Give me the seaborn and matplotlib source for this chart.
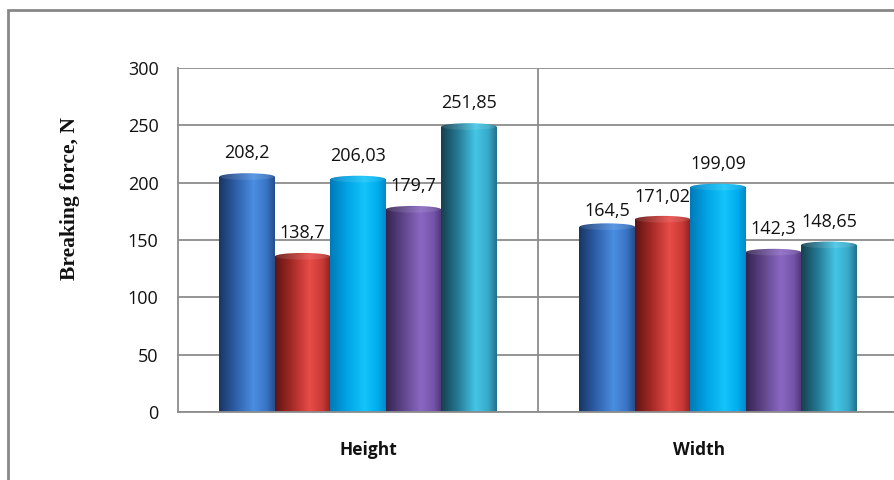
import numpy as np
import pandas as pd
import matplotlib
matplotlib.use("Agg")
import matplotlib.pyplot as plt
import seaborn as sns
from matplotlib.colors import LinearSegmentedColormap
from matplotlib.patches import Ellipse, Rectangle
from matplotlib.transforms import ScaledTranslation

categories = ["Height", "Width"]
series = ["S1", "S2", "S3", "S4", "S5"]
height_vals = [208.2, 138.7, 206.03, 179.7, 251.85]
width_vals = [164.5, 171.02, 199.09, 142.3, 148.65]
value_labels_height = ["208,2", "138,7", "206,03", "179,7", "251,85"]
value_labels_width = ["164,5", "171,02", "199,09", "142,3", "148,65"]
y_ticks = [0, 50, 100, 150, 200, 250, 300]

# gradient stops per series: (left edge, mid, highlight, right-mid, right edge)
grad_colors = [
    ["#173563", "#2e5fa8", "#4a8ee2", "#3a74c4", "#244d8c"],
    ["#5e1414", "#a52a26", "#e84c48", "#c83a36", "#8a2020"],
    ["#0079b8", "#00a4e4", "#14c4fa", "#00aeee", "#0088c8"],
    ["#36244f", "#5e4488", "#8a68c2", "#7555aa", "#4e3676"],
    ["#163f4e", "#257a94", "#44c6e6", "#38a8c8", "#23708a"],
]

rows = []
for cat, vals in zip(categories, [height_vals, width_vals]):
    for s, v in zip(series, vals):
        rows.append({"cat": cat, "series": s, "value": v})
df = pd.DataFrame(rows)

sns.set_theme(style="white")
plt.rcParams["font.family"] = ["Open Sans", "DejaVu Sans"]

fig = plt.figure(figsize=(8.94, 4.80), dpi=100)
W, H = 894, 480
ax = fig.add_axes([178 / W, 1 - 412 / H, 720 / W, 344 / H])

sns.barplot(data=df, x="cat", y="value", hue="series", order=categories,
            hue_order=series, width=0.77, dodge=True, legend=False,
            palette=[c[2] for c in grad_colors], ax=ax, saturation=1,
            linewidth=0, errorbar=None)

ax.set_xlim(-0.5, 1.5)
ax.set_ylim(0, 300)
ax.set_yticks(y_ticks)
ax.set_yticklabels([str(t) for t in y_ticks], fontsize=13, color="#111111")
ax.set_xlabel("")
ax.set_ylabel("")
ax.yaxis.grid(True, color="#8c8c8c", linewidth=1.3)
ax.set_axisbelow(True)
ax.axvline(0.5, color="#8c8c8c", linewidth=1.3, zorder=0.5)
for sp in ["top", "right"]:
    ax.spines[sp].set_visible(False)
for sp in ["left", "bottom"]:
    ax.spines[sp].set_color("#8c8c8c")
    ax.spines[sp].set_linewidth(1.3)
ax.tick_params(axis="y", length=0, pad=14)
ax.tick_params(axis="x", length=0, pad=21)

# category labels
ax.set_xticks([0, 1])
ax.set_xticklabels(categories, fontsize=12.5, fontweight="bold", color="#111111")
shifts = [10, -19]
for lab, dx in zip(ax.get_xticklabels(), shifts):
    lab.set_transform(lab.get_transform() + ScaledTranslation(dx / 100, 0, fig.dpi_scale_trans))

# cylinder-style gradient bars
px_per_unit = 344 / 300
cap_h = 7 / px_per_unit
bars = [p for p in ax.patches if isinstance(p, Rectangle) and p.get_height() > 0]
bars = sorted(bars, key=lambda p: p.get_x())
grad = np.linspace(0, 1, 256).reshape(1, -1)
for p in bars:
    x0 = p.get_x()
    w = p.get_width()
    h = p.get_height()
    fc = p.get_facecolor()
    idx = 0
    best = 1e9
    for i, c in enumerate(grad_colors):
        rgb = matplotlib.colors.to_rgb(c[2])
        d = sum((a - b) ** 2 for a, b in zip(rgb, fc[:3]))
        if d < best:
            best = d
            idx = i
    cmap = LinearSegmentedColormap.from_list(
        "g%d" % idx, list(zip([0, 0.3, 0.62, 0.85, 1.0], grad_colors[idx])))
    p.set_visible(False)
    body = Rectangle((x0, 0), w, h - cap_h / 2, transform=ax.transData)
    im = ax.imshow(grad, cmap=cmap, aspect="auto", extent=(x0, x0 + w, 0, h),
                   origin="lower", zorder=2, interpolation="bilinear")
    im.set_clip_path(body)
    cap = Ellipse((x0 + w / 2, h - cap_h / 2), w, cap_h, transform=ax.transData)
    im2 = ax.imshow(grad, cmap=cmap, aspect="auto", extent=(x0, x0 + w, 0, h),
                    origin="lower", zorder=2, interpolation="bilinear")
    im2.set_clip_path(cap)
    rim = Ellipse((x0 + w / 2, h - cap_h / 2), w * 0.97, cap_h * 0.9,
                  facecolor="white", alpha=0.10, edgecolor="none", zorder=2.1)
    ax.add_patch(rim)

ax.set_xlim(-0.5, 1.5)
ax.set_ylim(0, 300)

# value labels
all_labels = value_labels_height + value_labels_width
offsets = [20, 20, 20, 20, 20, 12, 19, 20, 20, 20]
for p, lab, off in zip(bars, all_labels, offsets):
    ax.annotate(lab, (p.get_x() + p.get_width() / 2, p.get_height()),
                xytext=(0, off * 0.72), textcoords="offset points",
                ha="center", va="center", fontsize=13, color="#111111",
                zorder=5, annotation_clip=False)

# y label
fig.text(70 / W, 1 - 198 / H, "Breaking force, N", rotation=90,
         ha="center", va="center", fontsize=15.5, fontweight="bold",
         family=["Liberation Serif", "DejaVu Serif"], color="#111111")

# outer border
fig.add_artist(Rectangle((8 / W, -0.1), 2.0, 1 - 10 / H + 0.1,
                         transform=fig.transFigure, fill=False,
                         edgecolor="#888888", linewidth=2))

fig.savefig("out.png", dpi=100)
